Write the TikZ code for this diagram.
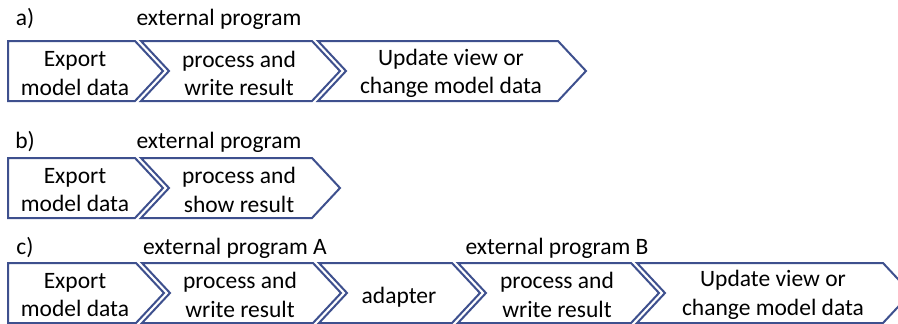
\documentclass[tikz,border=0pt]{standalone}
\usepackage{fontspec}
\setmainfont{Carlito}
\definecolor{chevline}{RGB}{62,80,142}
\tikzset{
  chev/.style={draw=chevline, line width=2pt, fill=white, line join=miter},
  boxtext/.style={align=center, inner sep=0pt, font=\fontsize{23.5}{28.7}\selectfont},
  caption/.style={inner sep=0pt, font=\fontsize{23.5}{28.7}\selectfont},
}
% chevron: #1 left x, #2 top-right x, #3 top y, #4 notch depth (0 = flat left side)
\newcommand{\chevshape}[4]{%
  \draw[chev] (#1,#3) -- (#2,#3) -- (#2+28,#3+30) -- (#2,#3+60) -- (#1,#3+60)
    -- (#1+#4,#3+30) -- cycle;}
\begin{document}
\begin{tikzpicture}[x=1pt,y=-1pt]
\useasboundingbox (0,0) rectangle (898,324);
\clip (0,0) rectangle (898,324);

% ---- row a
\node[caption] (la) at (25,19) {a)};
\node[caption] (exta) at (219,19) {external program};
\chevshape{8}{135}{41}{0}
\chevshape{141}{312}{41}{28}
\chevshape{318}{558}{41}{28}
\node[boxtext] (a1) at (75,73.5) {Export\\model data};
\node[boxtext] (a2) at (239,73.5) {process and\\write result};
\node[boxtext] (a3) at (451,73.5) {Update view or\\change model data};

% ---- row b
\node[caption] (lb) at (25,142) {b)};
\node[caption] (extb) at (219,142) {external program};
\chevshape{8}{135}{158}{0}
\chevshape{141}{312}{158}{28}
\node[boxtext] (b1) at (75,190) {Export\\model data};
\node[boxtext] (b2) at (239,190) {process and\\show result};

% ---- row c
\node[caption] (lc) at (25,248) {c)};
\node[caption] (extca) at (235,248) {external program A};
\node[caption] (extcb) at (557,248) {external program B};
\chevshape{8}{136}{263}{0}
\chevshape{142}{313}{263}{28}
\chevshape{319}{452}{263}{28}
\chevshape{458}{631}{263}{28}
\chevshape{637}{883}{263}{28}
\node[boxtext] (c1) at (75,295) {Export\\model data};
\node[boxtext] (c2) at (240,295) {process and\\write result};
\node[boxtext] (c3) at (399,297) {adapter};
\node[boxtext] (c4) at (557,295) {process and\\write result};
\node[boxtext] (c5) at (773,295) {Update view or\\change model data};
\end{tikzpicture}
\end{document}
